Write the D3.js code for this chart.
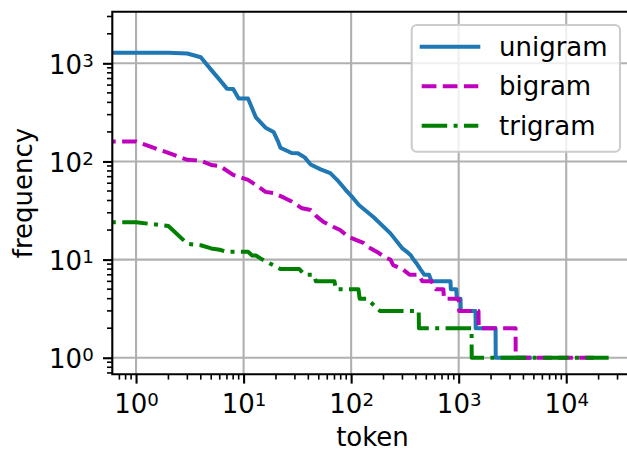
<!DOCTYPE html>
<html>
<head>
<meta charset="utf-8">
<script src="https://cdn.jsdelivr.net/npm/d3@7"></script>
<style>
  body { margin: 0; background: #fff; }
  text { font-family: "DejaVu Sans", sans-serif; fill: #000; }
</style>
</head>
<body>
<svg id="chart" width="627" height="451"></svg>
<script>
// token frequency by rank
var unigram = [
  [1, 1283], [2, 1280], [3, 1258], [4, 1154], [5, 857], [6, 678], [7, 552], [8, 547],
  [9, 437], [11, 437], [13, 282], [16, 221], [19, 200], [21, 158], [22, 138], [28, 122],
  [32, 121], [37, 110], [42, 93], [52, 83], [64, 76], [74, 65], [88, 52], [105, 42],
  [118, 36], [162, 27], [232, 18.5], [300, 13], [330, 12], [360, 11], [380, 10], [410, 9],
  [440, 8], [480, 7], [530, 7], [560, 6], [839, 6], [845, 5], [950, 5], [960, 4],
  [1040, 4], [1045, 3], [1433, 3], [1440, 2], [2203, 2], [2210, 1], [4580, 1]
];
var bigram = [
  [1, 160], [2, 122], [3, 104], [4, 102], [5, 92], [6, 90], [8, 73], [11, 65],
  [13, 57.6], [16, 49], [19, 47.7], [24, 42.5], [28, 39], [35, 33.3], [42, 32], [48, 27.4],
  [55, 24.3], [68, 21.6], [79, 20], [94, 17.1], [112, 15.8], [130, 14.8], [145, 13.4],
  [176, 11.9], [208, 10.5], [232, 10], [246, 8.8], [300, 8], [350, 7], [425, 7],
  [460, 6], [560, 6], [610, 5], [720, 5], [730, 4], [1000, 4], [1010, 3], [1528, 3],
  [1535, 2], [3380, 2], [3390, 1], [18000, 1]
];
var trigram = [
  [1, 24], [2, 22], [3, 14.5], [4, 14], [5, 13], [6, 12.6], [7, 12], [11, 12],
  [12, 11], [13, 11], [15, 10], [18, 9], [22, 8], [33, 8], [37, 7], [45, 7],
  [47, 6], [70, 6], [72, 5], [117, 5], [120, 4], [140, 4], [185, 3], [425, 3],
  [427, 2], [1318, 2], [1322, 1], [24800, 1]
];
var seriesNames = ['unigram', 'bigram', 'trigram'];
var seriesColors = ['#1f77b4', '#bf00bf', '#008000'];
var seriesDash = [null, '14.7,6.4', '25.5,6.4,4,6.4'];
var xTicks = [1, 10, 100, 1000, 10000];
var yTicks = [1, 10, 100, 1000];

var fs = 26;
var pL = 112.3, pR = 632.7, pT = 11.7, pB = 374.3;

var svg = d3.select('#chart');

var x = d3.scaleLog().domain([0.6015, 41500]).range([pL, pR]);
var y = d3.scaleLog().domain([0.678, 3357]).range([pB, pT]);

// minor tick positions
var minorsFor = function(dom) {
  var out = [];
  for (var e = -1; e <= 5; e++) {
    for (var m = 2; m <= 9; m++) {
      var v = m * Math.pow(10, e);
      if (v >= dom[0] && v <= dom[1]) out.push(v);
    }
  }
  return out;
};

svg.append('defs').append('clipPath').attr('id', 'clip')
  .append('rect')
  .attr('x', pL).attr('y', pT)
  .attr('width', pR - pL).attr('height', pB - pT);

// grid
var grid = svg.append('g');
grid.selectAll('.gx').data(xTicks).enter().append('line')
  .attr('x1', function(d) { return x(d); }).attr('x2', function(d) { return x(d); })
  .attr('y1', pT).attr('y2', pB)
  .attr('stroke', '#b0b0b0').attr('stroke-width', 2.1);
grid.selectAll('.gy').data(yTicks).enter().append('line')
  .attr('y1', function(d) { return y(d); }).attr('y2', function(d) { return y(d); })
  .attr('x1', pL).attr('x2', pR)
  .attr('stroke', '#b0b0b0').attr('stroke-width', 2.1);

// lines
var line = d3.line()
  .x(function(d) { return x(d[0]); })
  .y(function(d) { return y(d[1]); });

var allSeries = [unigram, bigram, trigram];
var plot = svg.append('g').attr('clip-path', 'url(#clip)');
allSeries.forEach(function(s, i) {
  // index 0 is clipped to the left edge by the log scale, as in the original
  var pts = [[x.domain()[0] * 0.5, s[0][1]]].concat(s);
  plot.append('path')
    .datum(pts)
    .attr('d', line)
    .attr('fill', 'none')
    .attr('stroke', seriesColors[i])
    .attr('stroke-width', 4)
    .attr('stroke-linejoin', 'round')
    .attr('stroke-linecap', seriesDash[i] ? 'butt' : 'square')
    .attr('stroke-dasharray', seriesDash[i]);
});

// superscript labels
var powLabel = function(sel) {
  sel.each(function(d) {
    var t = d3.select(this).text(null);
    t.append('tspan').text('10');
    t.append('tspan').attr('font-size', fs * 0.7).attr('dy', -7)
      .text(Math.round(Math.log10(d)));
  });
};

// x axis
var gx = svg.append('g').attr('transform', 'translate(0,' + pB + ')');
gx.call(d3.axisBottom(x).tickValues(xTicks).tickSize(9.3).tickFormat(''));
gx.select('.domain').remove();
gx.selectAll('.tick line').attr('stroke', '#000').attr('stroke-width', 2.1);
gx.selectAll('.tick text').attr('font-size', fs).attr('y', 38.7).attr('dy', null)
  .attr('fill', '#000').style('font-family', '"DejaVu Sans", sans-serif').call(powLabel);
gx.selectAll('.minor').data(minorsFor(x.domain())).enter().append('line')
  .attr('x1', function(d) { return x(d); }).attr('x2', function(d) { return x(d); })
  .attr('y1', 0).attr('y2', 5.3)
  .attr('stroke', '#000').attr('stroke-width', 1.6);

// y axis
var gy = svg.append('g').attr('transform', 'translate(' + pL + ',0)');
gy.call(d3.axisLeft(y).tickValues(yTicks).tickSize(9.3).tickFormat(''));
gy.select('.domain').remove();
gy.selectAll('.tick line').attr('stroke', '#000').attr('stroke-width', 2.1);
gy.selectAll('.tick text').attr('font-size', fs).attr('x', -18.6).attr('dy', 10)
  .attr('fill', '#000').style('font-family', '"DejaVu Sans", sans-serif').call(powLabel);
gy.selectAll('.minor').data(minorsFor(y.domain())).enter().append('line')
  .attr('y1', function(d) { return y(d); }).attr('y2', function(d) { return y(d); })
  .attr('x1', 0).attr('x2', -5.3)
  .attr('stroke', '#000').attr('stroke-width', 1.6);

// spines
svg.append('path')
  .attr('d', 'M' + pR + ',' + pT + 'H' + pL + 'V' + pB + 'H' + pR)
  .attr('fill', 'none').attr('stroke', '#000').attr('stroke-width', 2.1)
  .attr('stroke-linecap', 'square');

// axis labels
svg.append('text')
  .attr('x', (pL + pR) / 2).attr('y', 446)
  .attr('text-anchor', 'middle').attr('font-size', fs)
  .text('token');
svg.append('text')
  .attr('transform', 'translate(31.5,' + (pT + pB) / 2 + ') rotate(-90)')
  .attr('text-anchor', 'middle').attr('font-size', fs)
  .text('frequency');

// legend
var legend = svg.append('g');
legend.append('rect')
  .attr('x', 411.7).attr('y', 25).attr('width', 208.3).attr('height', 126.7)
  .attr('rx', 5).attr('fill', '#fff').attr('fill-opacity', 0.8)
  .attr('stroke', '#cccccc').attr('stroke-width', 2.1);
seriesNames.forEach(function(name, i) {
  var ry = 46.7 + i * 39.5;
  legend.append('line')
    .attr('x1', 421.7).attr('x2', 478.3).attr('y1', ry).attr('y2', ry)
    .attr('stroke', seriesColors[i]).attr('stroke-width', 4)
    .attr('stroke-linecap', seriesDash[i] ? 'butt' : 'square')
    .attr('stroke-dasharray', seriesDash[i]);
  legend.append('text')
    .attr('x', 499).attr('y', ry + 9)
    .attr('font-size', fs)
    .text(name);
});
</script>
</body>
</html>
